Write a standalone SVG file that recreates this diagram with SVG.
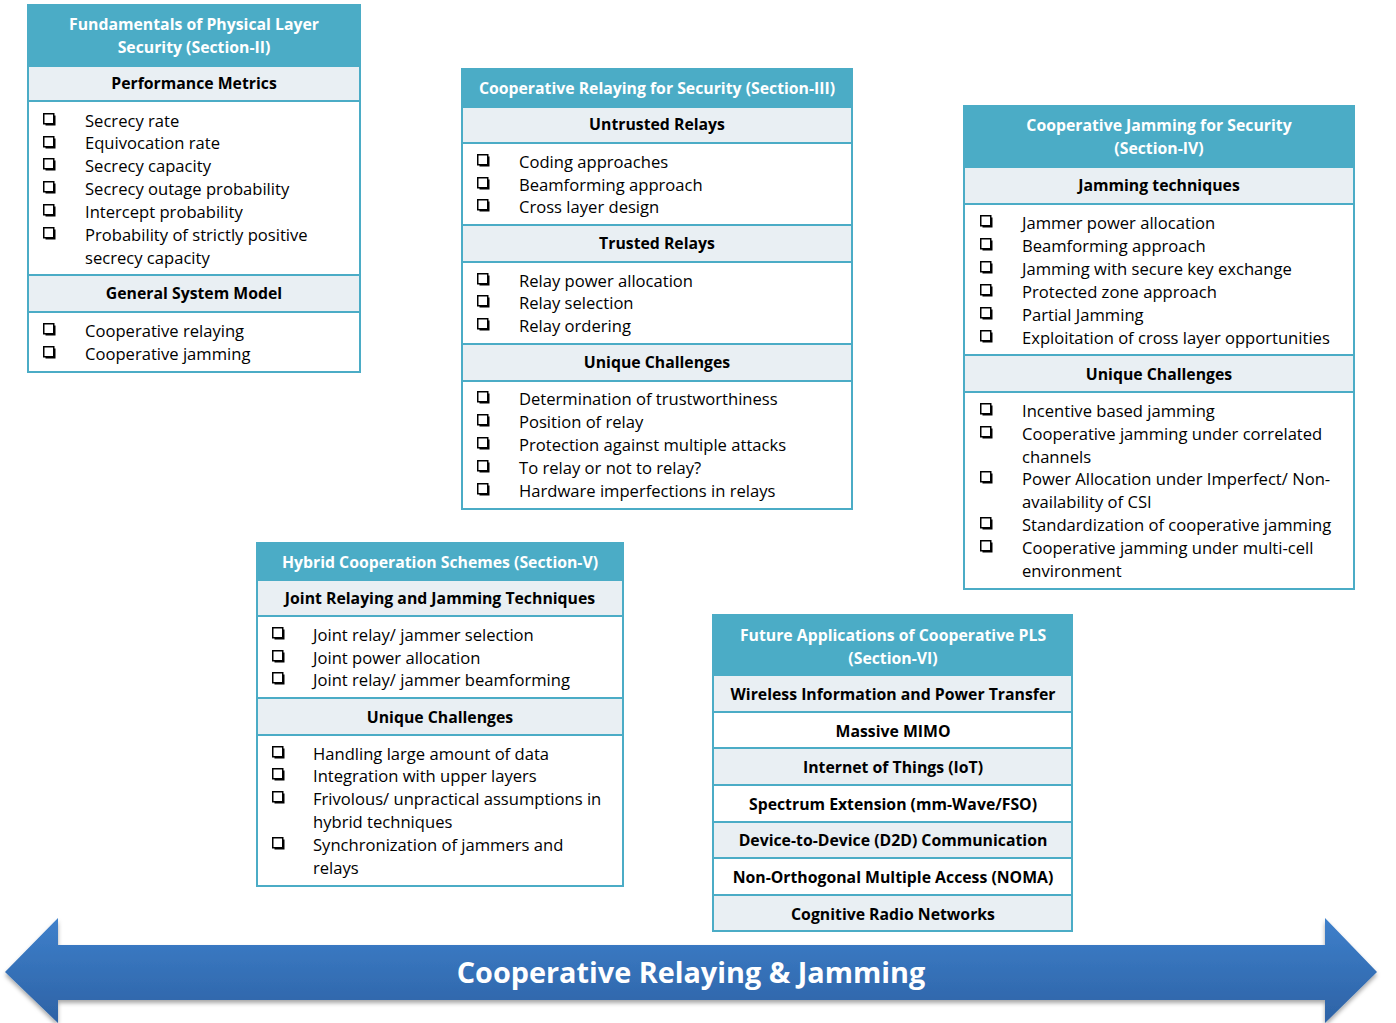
<svg xmlns="http://www.w3.org/2000/svg" width="1396" height="1023" viewBox="0 0 1396 1023">
<style>
.hdr{fill:#4BACC6}
.band{fill:#E9EFF3}
.body{fill:#FFFFFF}
.line{stroke:#4BACC6;stroke-width:2;fill:none}
.ht{font-family:"Open Sans","Liberation Sans",sans-serif;font-size:15.8px;font-weight:bold;fill:#FFFFFF;text-anchor:middle}
.st{font-family:"Open Sans","Liberation Sans",sans-serif;font-size:15.8px;font-weight:bold;fill:#000000;text-anchor:middle}
.it{font-family:"Open Sans","Liberation Sans",sans-serif;font-size:16.6px;fill:#000000}
.big{font-family:"Open Sans","Liberation Sans",sans-serif;font-size:28.8px;font-weight:bold;fill:#FFFFFF;text-anchor:middle}
</style>
<defs>
<symbol id="cb" viewBox="0 0 14 14" width="14" height="14" overflow="visible">
<rect x="2.5" y="2.5" width="10" height="10" fill="#000"/>
<rect x="0.75" y="0.75" width="10" height="10" fill="#fff" stroke="#000" stroke-width="1.5"/>
</symbol>
<linearGradient id="ag" x1="0" y1="0" x2="0" y2="1">
<stop offset="0" stop-color="#3E80CB"/>
<stop offset="1" stop-color="#2D62A5"/>
</linearGradient>
<filter id="sh" x="-5%" y="-10%" width="110%" height="130%">
<feDropShadow dx="0" dy="3" stdDeviation="2" flood-color="#000" flood-opacity="0.35"/>
</filter>
</defs>

<g id="connectors">
<g id="timeline-arrow">
<path d="M5,972 L58,918 L58,945 L1325,945 L1325,918 L1377,972 L1325,1023 L1325,1000 L58,1000 L58,1023 Z" fill="url(#ag)" filter="url(#sh)"/>
<text class="big" x="691" y="983">Cooperative Relaying &amp; Jamming</text>
</g>
</g>

<g id="node-fundamentals">
<rect class="hdr" x="28" y="5" width="332" height="61"/>
<rect class="band" x="28" y="66" width="332" height="35"/>
<rect class="body" x="28" y="101" width="332" height="174"/>
<rect class="band" x="28" y="275" width="332" height="37"/>
<rect class="body" x="28" y="312" width="332" height="60"/>
<rect class="line" x="28" y="5" width="332" height="367"/>
<path class="line" d="M28,66H360M28,101H360M28,275H360M28,312H360"/>
<text class="ht" x="194" y="30">Fundamentals of Physical Layer</text>
<text class="ht" x="194" y="53">Security (Section-II)</text>
<text class="st" x="194" y="89">Performance Metrics</text>
<text class="it" x="85" y="127">Secrecy rate</text>
<text class="it" x="85" y="149">Equivocation rate</text>
<text class="it" x="85" y="172">Secrecy capacity</text>
<text class="it" x="85" y="195">Secrecy outage probability</text>
<text class="it" x="85" y="218">Intercept probability</text>
<text class="it" x="85" y="241">Probability of strictly positive</text>
<text class="it" x="85" y="264">secrecy capacity</text>
<text class="st" x="194" y="299">General System Model</text>
<text class="it" x="85" y="337">Cooperative relaying</text>
<text class="it" x="85" y="360">Cooperative jamming</text>
<use href="#cb" x="43" y="113"/>
<use href="#cb" x="43" y="136"/>
<use href="#cb" x="43" y="158"/>
<use href="#cb" x="43" y="181"/>
<use href="#cb" x="43" y="204"/>
<use href="#cb" x="43" y="227"/>
<use href="#cb" x="43" y="323"/>
<use href="#cb" x="43" y="346"/>
</g>

<g id="node-relaying">
<rect class="hdr" x="462" y="69" width="390" height="38"/>
<rect class="band" x="462" y="107" width="390" height="36"/>
<rect class="body" x="462" y="143" width="390" height="82"/>
<rect class="band" x="462" y="225" width="390" height="37"/>
<rect class="body" x="462" y="262" width="390" height="82"/>
<rect class="band" x="462" y="344" width="390" height="37"/>
<rect class="body" x="462" y="381" width="390" height="128"/>
<rect class="line" x="462" y="69" width="390" height="440"/>
<path class="line" d="M462,107H852M462,143H852M462,225H852M462,262H852M462,344H852M462,381H852"/>
<text class="ht" x="657" y="94">Cooperative Relaying for Security (Section-III)</text>
<text class="st" x="657" y="130">Untrusted Relays</text>
<text class="it" x="519" y="168">Coding approaches</text>
<text class="it" x="519" y="191">Beamforming approach</text>
<text class="it" x="519" y="213">Cross layer design</text>
<text class="st" x="657" y="249">Trusted Relays</text>
<text class="it" x="519" y="287">Relay power allocation</text>
<text class="it" x="519" y="309">Relay selection</text>
<text class="it" x="519" y="332">Relay ordering</text>
<text class="st" x="657" y="368">Unique Challenges</text>
<text class="it" x="519" y="405">Determination of trustworthiness</text>
<text class="it" x="519" y="428">Position of relay</text>
<text class="it" x="519" y="451">Protection against multiple attacks</text>
<text class="it" x="519" y="474">To relay or not to relay?</text>
<text class="it" x="519" y="497">Hardware imperfections in relays</text>
<use href="#cb" x="477" y="154"/>
<use href="#cb" x="477" y="177"/>
<use href="#cb" x="477" y="199"/>
<use href="#cb" x="477" y="273"/>
<use href="#cb" x="477" y="295"/>
<use href="#cb" x="477" y="318"/>
<use href="#cb" x="477" y="391"/>
<use href="#cb" x="477" y="414"/>
<use href="#cb" x="477" y="437"/>
<use href="#cb" x="477" y="460"/>
<use href="#cb" x="477" y="483"/>
</g>

<g id="node-jamming">
<rect class="hdr" x="964" y="106" width="390" height="61"/>
<rect class="band" x="964" y="167" width="390" height="37"/>
<rect class="body" x="964" y="204" width="390" height="151"/>
<rect class="band" x="964" y="355" width="390" height="37"/>
<rect class="body" x="964" y="392" width="390" height="197"/>
<rect class="line" x="964" y="106" width="390" height="483"/>
<path class="line" d="M964,167H1354M964,204H1354M964,355H1354M964,392H1354"/>
<text class="ht" x="1159" y="131">Cooperative Jamming for Security</text>
<text class="ht" x="1159" y="154">(Section-IV)</text>
<text class="st" x="1159" y="191">Jamming techniques</text>
<text class="it" x="1022" y="229">Jammer power allocation</text>
<text class="it" x="1022" y="252">Beamforming approach</text>
<text class="it" x="1022" y="275">Jamming with secure key exchange</text>
<text class="it" x="1022" y="298">Protected zone approach</text>
<text class="it" x="1022" y="321">Partial Jamming</text>
<text class="it" x="1022" y="344">Exploitation of cross layer opportunities</text>
<text class="st" x="1159" y="380">Unique Challenges</text>
<text class="it" x="1022" y="417">Incentive based jamming</text>
<text class="it" x="1022" y="440">Cooperative jamming under correlated</text>
<text class="it" x="1022" y="463">channels</text>
<text class="it" x="1022" y="485">Power Allocation under Imperfect/ Non-</text>
<text class="it" x="1022" y="508">availability of CSI</text>
<text class="it" x="1022" y="531">Standardization of cooperative jamming</text>
<text class="it" x="1022" y="554">Cooperative jamming under multi-cell</text>
<text class="it" x="1022" y="577">environment</text>
<use href="#cb" x="980" y="215"/>
<use href="#cb" x="980" y="238"/>
<use href="#cb" x="980" y="261"/>
<use href="#cb" x="980" y="284"/>
<use href="#cb" x="980" y="307"/>
<use href="#cb" x="980" y="330"/>
<use href="#cb" x="980" y="403"/>
<use href="#cb" x="980" y="426"/>
<use href="#cb" x="980" y="471"/>
<use href="#cb" x="980" y="517"/>
<use href="#cb" x="980" y="540"/>
</g>

<g id="node-hybrid">
<rect class="hdr" x="257" y="543" width="366" height="37"/>
<rect class="band" x="257" y="580" width="366" height="36"/>
<rect class="body" x="257" y="616" width="366" height="82"/>
<rect class="band" x="257" y="698" width="366" height="37"/>
<rect class="body" x="257" y="735" width="366" height="151"/>
<rect class="line" x="257" y="543" width="366" height="343"/>
<path class="line" d="M257,580H623M257,616H623M257,698H623M257,735H623"/>
<text class="ht" x="440" y="568">Hybrid Cooperation Schemes (Section-V)</text>
<text class="st" x="440" y="604">Joint Relaying and Jamming Techniques</text>
<text class="it" x="313" y="641">Joint relay/ jammer selection</text>
<text class="it" x="313" y="664">Joint power allocation</text>
<text class="it" x="313" y="686">Joint relay/ jammer beamforming</text>
<text class="st" x="440" y="723">Unique Challenges</text>
<text class="it" x="313" y="760">Handling large amount of data</text>
<text class="it" x="313" y="782">Integration with upper layers</text>
<text class="it" x="313" y="805">Frivolous/ unpractical assumptions in</text>
<text class="it" x="313" y="828">hybrid techniques</text>
<text class="it" x="313" y="851">Synchronization of jammers and</text>
<text class="it" x="313" y="874">relays</text>
<use href="#cb" x="272" y="627"/>
<use href="#cb" x="272" y="650"/>
<use href="#cb" x="272" y="672"/>
<use href="#cb" x="272" y="746"/>
<use href="#cb" x="272" y="768"/>
<use href="#cb" x="272" y="791"/>
<use href="#cb" x="272" y="837"/>
</g>

<g id="node-future">
<rect class="hdr" x="713" y="615" width="359" height="60"/>
<rect class="band" x="713" y="675" width="359" height="37"/>
<rect class="body" x="713" y="712" width="359" height="36"/>
<rect class="band" x="713" y="748" width="359" height="37"/>
<rect class="body" x="713" y="785" width="359" height="37"/>
<rect class="band" x="713" y="822" width="359" height="36"/>
<rect class="body" x="713" y="858" width="359" height="37"/>
<rect class="band" x="713" y="895" width="359" height="36"/>
<rect class="line" x="713" y="615" width="359" height="316"/>
<path class="line" d="M713,675H1072M713,712H1072M713,748H1072M713,785H1072M713,822H1072M713,858H1072M713,895H1072"/>
<text class="ht" x="893" y="641">Future Applications of Cooperative PLS</text>
<text class="ht" x="893" y="664">(Section-VI)</text>
<text class="st" x="893" y="700">Wireless Information and Power Transfer</text>
<text class="st" x="893" y="737">Massive MIMO</text>
<text class="st" x="893" y="773">Internet of Things (IoT)</text>
<text class="st" x="893" y="810">Spectrum Extension (mm-Wave/FSO)</text>
<text class="st" x="893" y="846">Device-to-Device (D2D) Communication</text>
<text class="st" x="893" y="883">Non-Orthogonal Multiple Access (NOMA)</text>
<text class="st" x="893" y="920">Cognitive Radio Networks</text>
</g>
</svg>
